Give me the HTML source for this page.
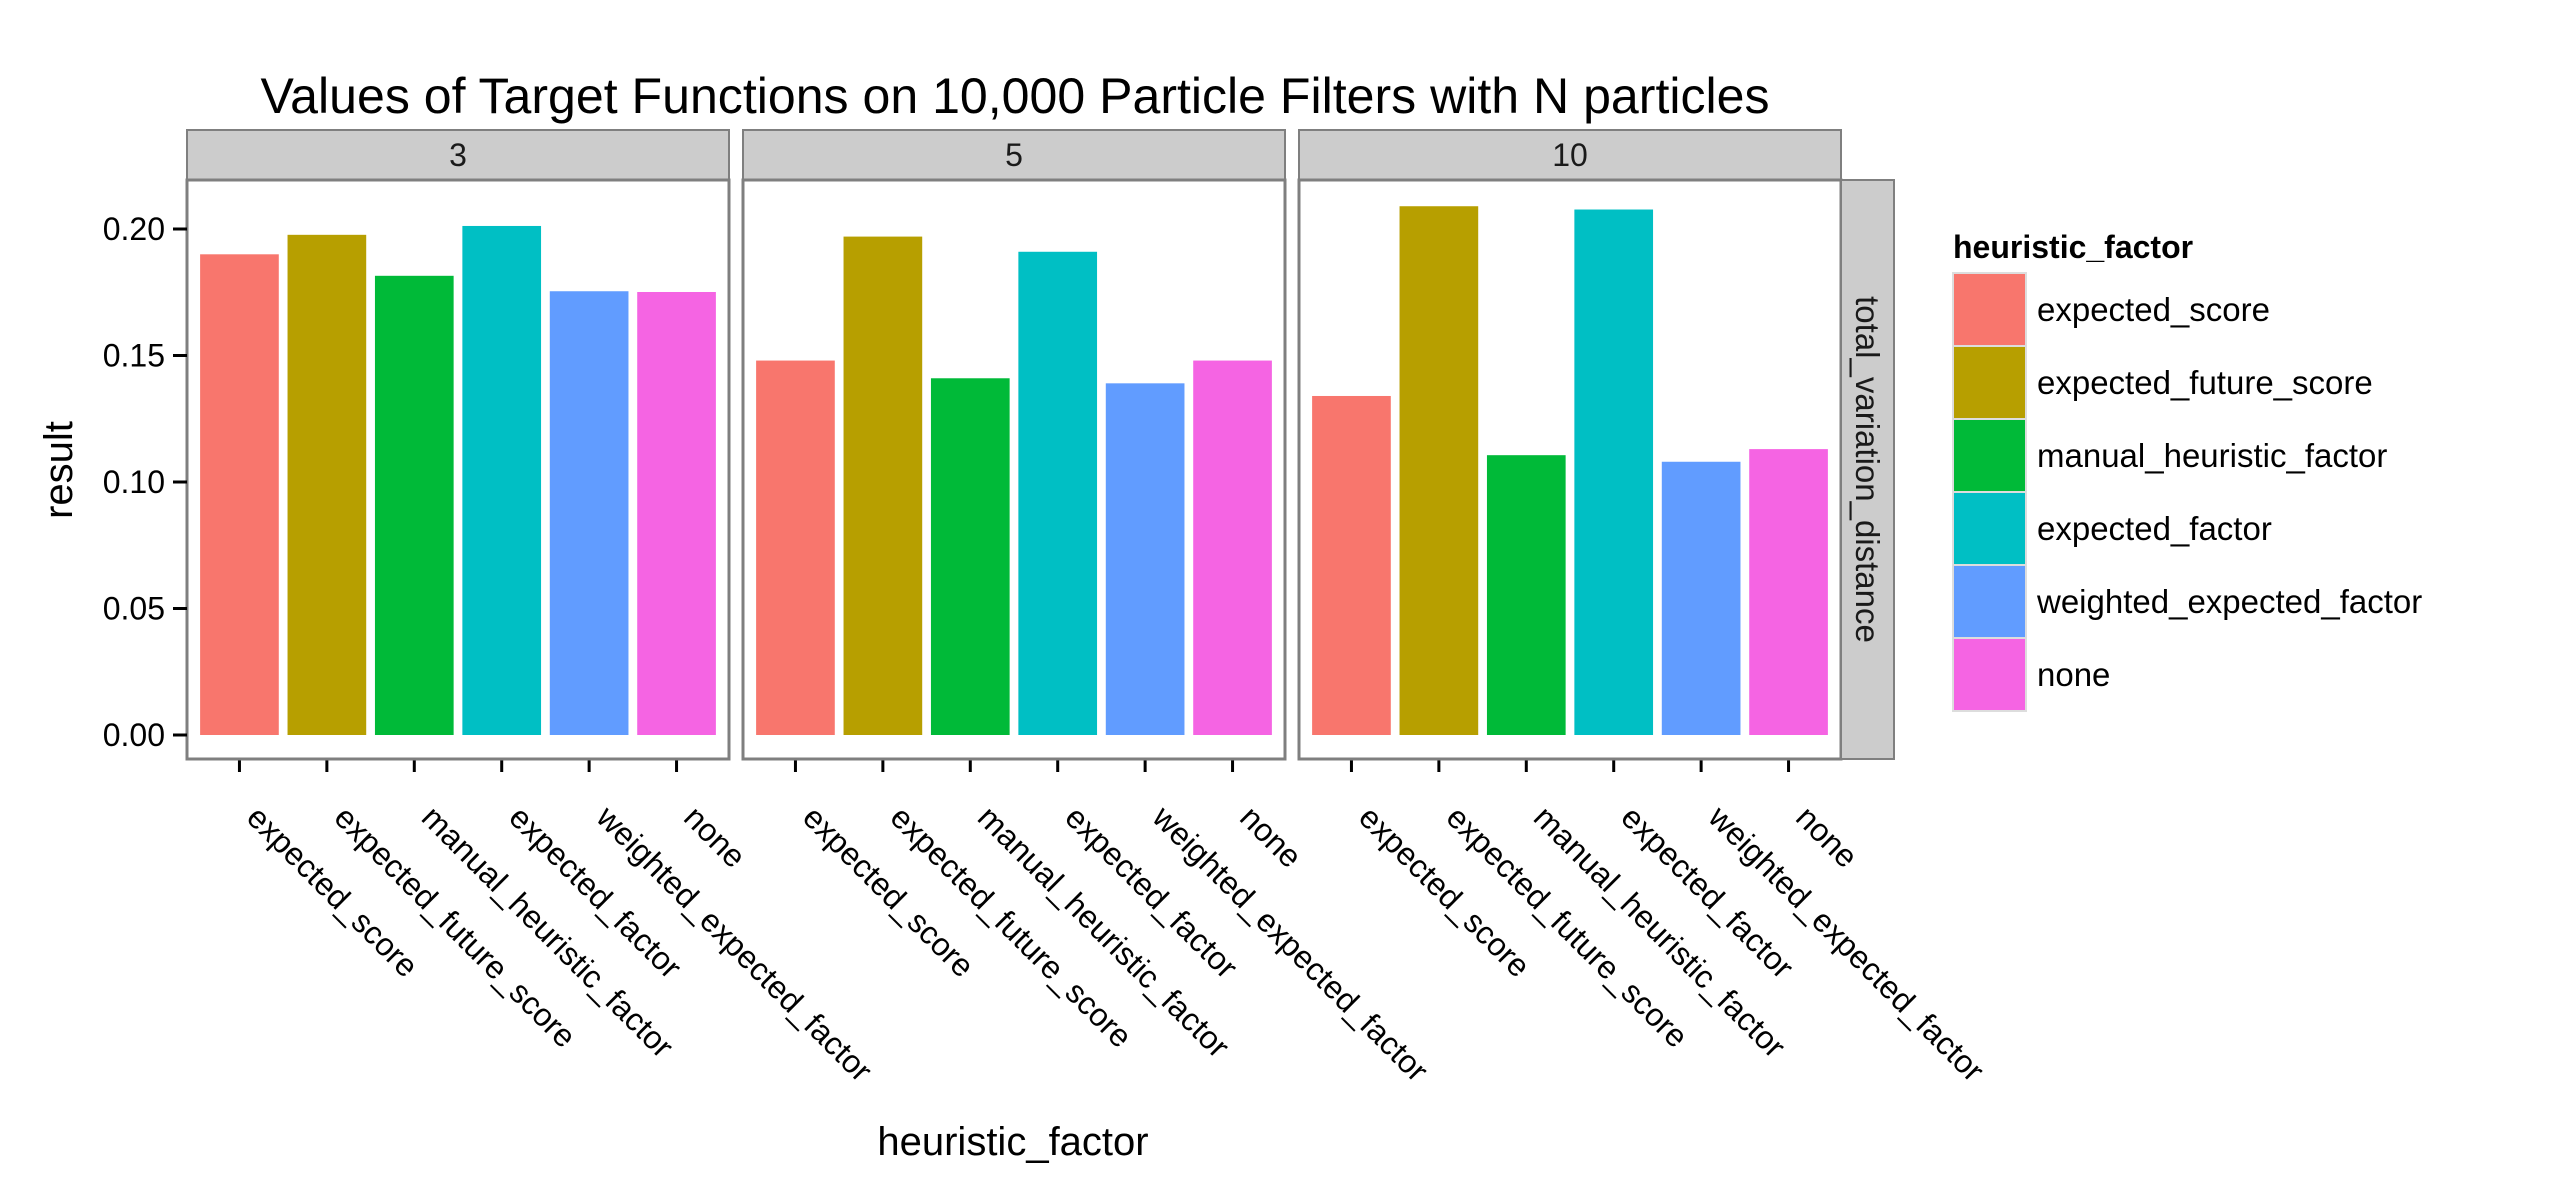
<!DOCTYPE html>
<html><head><meta charset="utf-8"><style>
html,body{margin:0;padding:0;background:#fff}
svg{display:block;font-family:"Liberation Sans",sans-serif}
</style></head><body>
<svg id="chart" width="2550" height="1200" viewBox="0 0 2550 1200">
<text x="1015" y="113" font-size="50" text-anchor="middle" textLength="1509" lengthAdjust="spacingAndGlyphs" fill="#000">Values of Target Functions on 10,000 Particle Filters with N particles</text>
<g id="panels"></g>
<g id="legend"></g>
<text x="1013" y="1155" font-size="40" text-anchor="middle">heuristic_factor</text>
<text transform="translate(72,470) rotate(-90)" font-size="40" text-anchor="middle">result</text>
</svg>
<script>
const facets = ["3","5","10"];
const categories = ["expected_score","expected_future_score","manual_heuristic_factor","expected_factor","weighted_expected_factor","none"];
const colors = ["#F8766D","#B79F00","#00BA38","#00BFC4","#619CFF","#F564E3"];
const valuesN3 = [0.190,0.1977,0.1815,0.2012,0.1754,0.1751];
const valuesN5 = [0.148,0.197,0.141,0.191,0.139,0.148];
const valuesN10 = [0.134,0.209,0.1106,0.2077,0.108,0.113];
const yTicks = [0,0.05,0.10,0.15,0.20];
const yTickLabels = ["0.00","0.05","0.10","0.15","0.20"];
const rowLabel = "total_variation_distance";
const legendTitle = "heuristic_factor";

const NS="http://www.w3.org/2000/svg";
function mk(tag,attrs,parent){const e=document.createElementNS(NS,tag);for(const k in attrs)e.setAttribute(k,attrs[k]);parent.appendChild(e);return e;}
const panelLefts=[187,743,1299], panelW=542, panelTop=180, panelBot=759;
const y0=735, y20=229;
function yScale(v){return y0-(v/0.2)*(y0-y20);}
function xScale(i,left){const u=panelW/6.2;return left+(i+1-0.4)*u;}
const allVals=[valuesN3,valuesN5,valuesN10];
const root=document.getElementById('panels');
facets.forEach((f,p)=>{
  const L=panelLefts[p];
  const g=mk('g',{},root);
  
  
  const strip=mk('rect',{x:L,y:130,width:panelW,height:50,fill:'#cccccc',stroke:'#7f7f7f','stroke-width':2},g);
  
  
  const st=mk('text',{x:L+panelW/2,y:166,'font-size':32,'text-anchor':'middle',fill:'#1a1a1a'},g);
  st.textContent=f;
  
  
  const bg=mk('rect',{x:L,y:panelTop,width:panelW,height:panelBot-panelTop,fill:'#fff'},g);
  
  
  const u=panelW/6.2;
  allVals[p].forEach((v,i)=>{
    const cx=xScale(i,L);
    const b=mk('rect',{x:cx-0.45*u,y:yScale(v),width:0.9*u,height:yScale(0)-yScale(v),fill:colors[i]},g);
    
    
    const t=mk('line',{x1:cx,x2:cx,y1:panelBot,y2:panelBot+13,stroke:'#000','stroke-width':3},g);
    
    
    const ax=cx+22, ay=panelBot+44;
    const tl=mk('text',{x:ax,y:ay,'font-size':32,'dominant-baseline':'hanging',transform:`rotate(45 ${ax} ${ay})`,fill:'#000'},g);
    tl.textContent=categories[i];
    
    
  });
  const bd=mk('rect',{x:L,y:panelTop,width:panelW,height:panelBot-panelTop,fill:'none',stroke:'#7f7f7f','stroke-width':3},g);
  
  
});
yTicks.forEach((v,i)=>{
  const y=yScale(v);
  const t=mk('line',{x1:173,x2:187,y1:y,y2:y,stroke:'#000','stroke-width':3},root);
  
  
  const tl=mk('text',{x:165,y:y+11,'font-size':32,'text-anchor':'end'},root);
  tl.textContent=yTickLabels[i];
  
  
});
const rs=mk('rect',{x:1841,y:panelTop,width:53,height:panelBot-panelTop,fill:'#cccccc',stroke:'#7f7f7f','stroke-width':2},root);


const rt=mk('text',{transform:`translate(1856,${(panelTop+panelBot)/2}) rotate(90)`,'font-size':33,'text-anchor':'middle',fill:'#1a1a1a'},root);
rt.textContent=rowLabel;


const lg=document.getElementById('legend');
const lt=mk('text',{x:1953,y:258,'font-size':32,'font-weight':'bold'},lg);
lt.textContent=legendTitle;


categories.forEach((c,i)=>{
  const y=273+i*73;
  const k=mk('rect',{x:1953,y:y,width:73,height:73,fill:colors[i],stroke:'#dddddd','stroke-width':2},lg);
  
  
  const t=mk('text',{x:2037,y:y+48,'font-size':33},lg);
  t.textContent=c;
  
  
});
</script>
</body></html>
